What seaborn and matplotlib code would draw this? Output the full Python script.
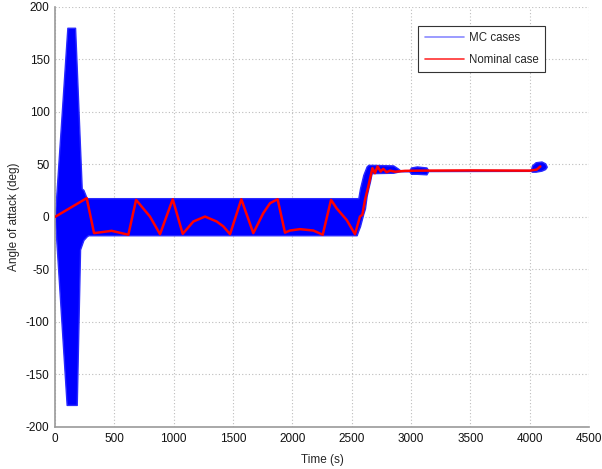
import numpy as np
import pandas as pd
import matplotlib
matplotlib.use("Agg")
import matplotlib.pyplot as plt
from matplotlib.lines import Line2D
import seaborn as sns

# Monte Carlo dispersion envelope of the angle of attack (deg) over time (s)
mc_time = [0, 98, 104, 169, 183, 211, 225, 239, 267, 281, 2542, 2556, 2570, 2598,
           2612, 2626, 2640, 2654, 2668, 2850, 2890, 2910, 2985, 3000, 3050, 3130,
           3145, 4010, 4020, 4050, 4100, 4130, 4143]
mc_upper = [2, 170, 180, 180, 142, 65, 27, 25.7, 17.8, 17.8, 17.8, 17.8, 27, 40,
            44, 48, 49.5, 49.5, 49.5, 49, 46, 44.2, 44.2, 47, 48, 47,
            44.4, 44.6, 49, 52, 52.7, 51, 48]
mc_lower = [-3, -179, -179, -179, -179, -31, -26.5, -22, -18.5, -17.5, -17.5, -13, -9, 3,
            8, 20, 27, 33.6, 41.6, 42, 43, 43.4, 43.4, 41, 41, 40.5,
            43.6, 43.8, 43, 43, 44, 45.5, 47.5]

# Nominal trajectory
nom_time = [0, 267, 329, 477, 618, 683, 800, 885, 992, 1076, 1166, 1264, 1362, 1418,
            1475, 1570, 1671, 1755, 1812, 1876, 1938, 1980, 2064, 2177, 2256, 2326,
            2374, 2458, 2528, 2570, 2590, 2612, 2640, 2675, 2696, 2718, 2744, 2766,
            2795, 2823, 2865, 2950, 3100, 3500, 4000, 4060, 4090]
nom_aoa = [0, 17.8, -15.5, -13.3, -17, 16.2, 0.3, -16.5, 16.8, -16.2, -4.4, 0.3, -4.4, -9,
           -16.5, 16.8, -15.5, 3.5, 13, 16.8, -15, -13, -11.7, -13, -17, 16.2,
           8, -3, -16.5, 0.3, 2, 16, 29, 46.4, 41.6, 48, 43.2, 45.7,
           42.5, 44, 43, 43.8, 44, 44.2, 44, 45, 48]

x_ticks = [0, 500, 1000, 1500, 2000, 2500, 3000, 3500, 4000, 4500]
y_ticks = [-200, -150, -100, -50, 0, 50, 100, 150, 200]

sns.set_theme(style="white")
plt.rcParams["font.family"] = ["Liberation Sans", "DejaVu Sans"]

fig = plt.figure(figsize=(6.02, 4.69), dpi=100)
ax = fig.add_axes([0.0914, 0.0896, 0.887, 0.896])

ax.fill_between(mc_time, mc_lower, mc_upper, color="#0000ff", linewidth=1.0,
                edgecolor="#2a2aff", zorder=2)

nominal = pd.DataFrame({"Time (s)": nom_time, "aoa": nom_aoa})
sns.lineplot(data=nominal, x="Time (s)", y="aoa", color="#ff0000", linewidth=1.8,
             ax=ax, zorder=3, sort=False, estimator=None)

ax.set_xlim(0, 4500)
ax.set_ylim(-200, 200)
ax.set_xticks(x_ticks)
ax.set_yticks(y_ticks)
ax.set_xticklabels([str(v) for v in x_ticks])
ax.set_yticklabels([str(v) for v in y_ticks])

ax.grid(True, linestyle=(0, (1, 2)), color="#bdbdbd", linewidth=0.8)
ax.set_axisbelow(True)

for side in ("top", "right"):
    ax.spines[side].set_visible(False)
for side in ("left", "bottom"):
    ax.spines[side].set_color("#9a9a9a")
    ax.spines[side].set_linewidth(1.2)

ax.tick_params(axis="both", direction="in", length=4, width=0.8, color="#7a7a7a",
               labelsize=8.5, labelcolor="#111111", pad=4)

ax.set_xlabel("Time (s)", fontsize=8.5, labelpad=7)
ax.set_ylabel("Angle of attack (deg)", fontsize=8.5, labelpad=4)

handles = [Line2D([], [], color="#8a8aff", linewidth=1.2),
           Line2D([], [], color="#ff3030", linewidth=1.2)]
leg = ax.legend(handles, ["MC cases", "Nominal case"], loc="upper right",
                bbox_to_anchor=(0.918, 0.955), fontsize=8.3, frameon=True,
                fancybox=False, framealpha=1, edgecolor="#333333",
                handlelength=3.4, borderpad=0.55, labelspacing=0.85,
                handletextpad=0.45, borderaxespad=0)
leg.get_frame().set_linewidth(0.8)

fig.savefig("out.png", dpi=100)
